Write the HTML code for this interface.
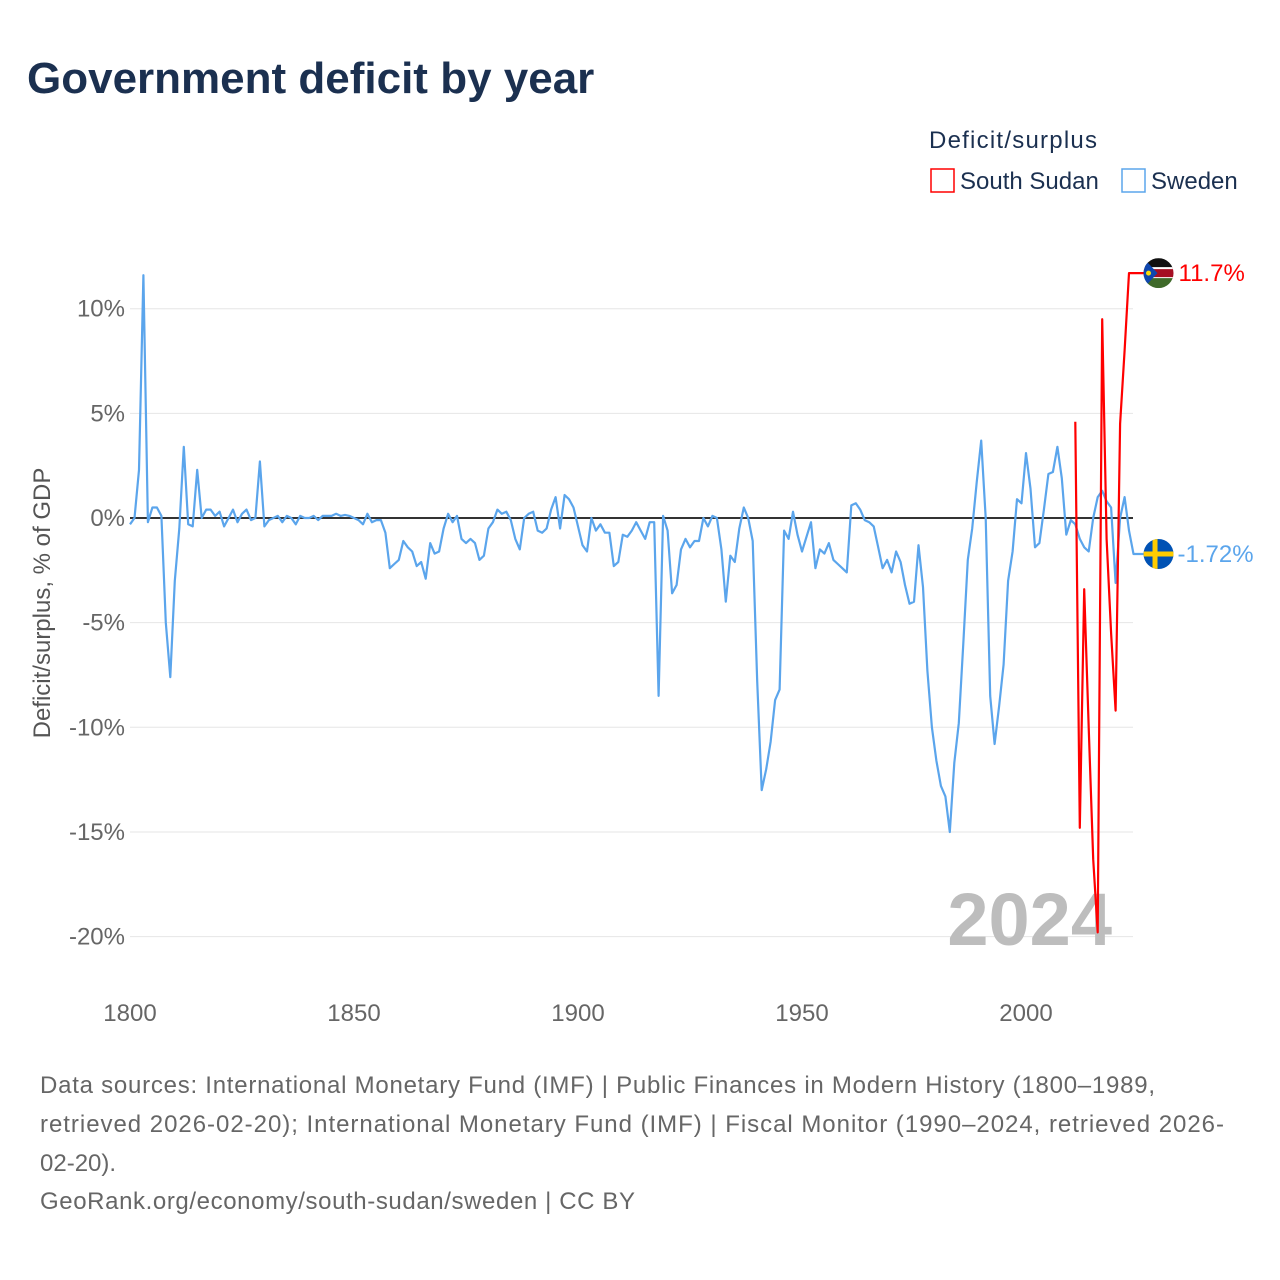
<!DOCTYPE html>
<html><head><meta charset="utf-8">
<style>
body{margin:0;background:#fff;font-family:"Liberation Sans",sans-serif;}
#wrap{position:relative;width:1280px;height:1280px;overflow:hidden;}
</style></head>
<body><div id="wrap">
<svg id="chart" width="1280" height="1280" xmlns="http://www.w3.org/2000/svg">
<text x="27" y="93" font-size="44" font-weight="bold" fill="#1b3050" font-family="Liberation Sans, sans-serif">Government deficit by year</text>
<text x="929" y="148" font-size="24" fill="#1b3050" textLength="168">Deficit/surplus</text>
<g><rect x="931" y="169" width="23" height="23" fill="none" stroke="#f00" stroke-width="1.5"/><text x="960" y="189" font-size="24" fill="#1b3050">South Sudan</text></g>
<g><rect x="1122" y="169" width="23" height="23" fill="none" stroke="#5ba5ec" stroke-width="1.5"/><text x="1151" y="189" font-size="24" fill="#1b3050">Sweden</text></g>
<g id="grid"></g>
<g id="yticks"></g>
<g id="xticks"></g>
<text transform="translate(50,603) rotate(-90)" text-anchor="middle" font-size="24" fill="#555">Deficit/surplus, % of GDP</text>
<text x="1112" y="945" text-anchor="end" font-size="74" font-weight="bold" fill="#bdbdbd">2024</text>
<g id="series"></g>
<g font-size="24" fill="#666">
<text x="40" y="1093" textLength="1115" lengthAdjust="spacing">Data sources: International Monetary Fund (IMF) | Public Finances in Modern History (1800–1989,</text>
<text x="40" y="1132" textLength="1184" lengthAdjust="spacing">retrieved 2026-02-20); International Monetary Fund (IMF) | Fiscal Monitor (1990–2024, retrieved 2026-</text>
<text x="40" y="1171">02-20).</text>
<text x="40" y="1209" textLength="595" lengthAdjust="spacing">GeoRank.org/economy/south-sudan/sweden | CC BY</text>
</g>
</svg>
<script>
const yTickValues=[10,5,0,-5,-10,-15,-20];
const xTickValues=[1800,1850,1900,1950,2000];
const swedenStart=1800;
const swedenValues=[-0.3,0,2.3,11.6,-0.2,0.5,0.5,0.1,-5,-7.6,-3,-0.5,3.4,-0.3,-0.4,2.3,0,0.4,0.4,0.1,0.3,-0.4,0,0.4,-0.2,0.2,0.4,-0.1,0,2.7,
-0.4,-0.1,0,0.1,-0.2,0.1,0,-0.3,0.1,0,0,0.1,-0.1,0.1,0.1,0.1,0.2,0.1,0.15,0.1,0,-0.1,-0.3,0.2,-0.2,-0.1,-0.1,-0.7,-2.4,-2.2,
-2.0,-1.1,-1.4,-1.6,-2.3,-2.1,-2.9,-1.2,-1.7,-1.6,-0.5,0.2,-0.2,0.1,-1.0,-1.2,-1.0,-1.2,-2.0,-1.8,-0.5,-0.2,0.4,0.2,0.3,-0.1,-1.0,-1.5,0,0.2,
0.3,-0.6,-0.7,-0.5,0.4,1.0,-0.5,1.1,0.9,0.5,-0.4,-1.3,-1.6,0,-0.6,-0.3,-0.7,-0.7,-2.3,-2.1,-0.8,-0.9,-0.6,-0.2,-0.6,-1.0,-0.2,-0.2,-8.5,0.1,
-0.6,-3.6,-3.2,-1.5,-1.0,-1.4,-1.1,-1.1,0,-0.4,0.1,0,-1.5,-4.0,-1.8,-2.1,-0.5,0.5,0,-1.1,-7.8,-13.0,-12,-10.7,-8.7,-8.2,-0.6,-1.0,0.3,-0.8,
-1.6,-0.9,-0.2,-2.4,-1.5,-1.7,-1.2,-2.0,-2.2,-2.4,-2.6,0.6,0.7,0.4,-0.1,-0.2,-0.4,-1.4,-2.4,-2.0,-2.6,-1.6,-2.1,-3.2,-4.1,-4.0,-1.3,-3.3,-7.3,-10,
-11.6,-12.8,-13.3,-15.0,-11.7,-9.8,-6,-2.0,-0.5,1.7,3.7,0,-8.5,-10.8,-9,-7,-3,-1.6,0.9,0.7,3.1,1.4,-1.4,-1.2,0.4,2.1,2.2,3.4,1.9,-0.8,
-0.1,-0.3,-1.0,-1.4,-1.6,0,1.0,1.3,0.8,0.5,-3.1,0,1.0,-0.6,-1.72];
const sudanYears=[2011,2012,2013,2014,2015,2016,2017,2018,2019,2020,2021,2022,2023,2024];
const sudanValues=[4.6,-14.8,-3.4,-10,-16.3,-19.8,9.5,-1.0,-5.5,-9.2,4.5,8,11.7,11.7];
const NS='http://www.w3.org/2000/svg';
const X=yr=>130+(yr-1800)*4.48;
const Y=v=>518-v*20.93;
function mk(tag,attrs,parent){const e=document.createElementNS(NS,tag);for(const k in attrs)e.setAttribute(k,attrs[k]);parent.appendChild(e);return e;}
const grid=document.getElementById('grid'),yt=document.getElementById('yticks'),xt=document.getElementById('xticks'),ser=document.getElementById('series');
yTickValues.forEach(v=>{
 if(v!==0){const l=mk('line',{x1:130,x2:1133,y1:Y(v),y2:Y(v),stroke:'#e6e6e6','stroke-width':1},grid);
 
 }
 const t=mk('text',{x:125,y:Y(v)+8,'text-anchor':'end','font-size':24,fill:'#666'},yt);
 
 
 t.textContent=v+'%';
});
xTickValues.forEach(v=>{
 const t=mk('text',{x:X(v),y:1021,'text-anchor':'middle','font-size':24,fill:'#666'},xt);
 
 
 t.textContent=v;
});
const zl=mk('line',{x1:130,x2:1133,y1:Y(0),y2:Y(0),stroke:'#333','stroke-width':2},grid);


const sp=swedenValues.map((v,i)=>X(swedenStart+i).toFixed(1)+','+Y(v).toFixed(1));
const lastSw=swedenValues[swedenValues.length-1];
const sw=mk('polyline',{points:sp.join(' ')+' '+(X(2024)+12)+','+Y(lastSw).toFixed(1),fill:'none',stroke:'#5ba5ec','stroke-width':2.2,'stroke-linejoin':'round'},ser);


const lastSu=sudanValues[sudanValues.length-1];
const su=mk('polyline',{points:sudanYears.map((y,i)=>X(y).toFixed(1)+','+Y(sudanValues[i]).toFixed(1)).join(' ')+' '+(X(2024)+12)+','+Y(lastSu).toFixed(1),fill:'none',stroke:'#f00','stroke-width':2.2,'stroke-linejoin':'round'},ser);


const fx=X(2024)+25;
const g1=mk('g',{},ser);


const cp=mk('clipPath',{id:'c1'},g1);mk('circle',{cx:fx,cy:Y(lastSu),r:15},cp);
const gc=mk('g',{'clip-path':'url(#c1)'},g1);
const yy=Y(lastSu);
mk('rect',{x:fx-15,y:yy-15,width:30,height:10,fill:'#111'},gc);
mk('rect',{x:fx-15,y:yy-5,width:30,height:10,fill:'#a50f23'},gc);
mk('rect',{x:fx-15,y:yy-6,width:30,height:2,fill:'#fff'},gc);
mk('rect',{x:fx-15,y:yy+4,width:30,height:2,fill:'#fff'},gc);
mk('rect',{x:fx-15,y:yy+5,width:30,height:10,fill:'#3f6a2a'},gc);
mk('polygon',{points:(fx-15)+','+(yy-15)+' '+(fx-1)+','+yy+' '+(fx-15)+','+(yy+15),fill:'#0f47af'},gc);
mk('circle',{cx:fx-10,cy:yy,r:2.5,fill:'#fcdd09'},gc);
const t1=mk('text',{x:fx+20,y:yy+8,'font-size':24,fill:'#f00'},ser);


t1.textContent=lastSu+'%';
const g2=mk('g',{},ser);


const y2=Y(lastSw);
const cp2=mk('clipPath',{id:'c2'},g2);mk('circle',{cx:fx,cy:y2,r:15},cp2);
const gc2=mk('g',{'clip-path':'url(#c2)'},g2);
mk('rect',{x:fx-15,y:y2-15,width:30,height:30,fill:'#0052b4'},gc2);
mk('rect',{x:fx-15,y:y2-2.5,width:30,height:5,fill:'#fecc00'},gc2);
mk('rect',{x:fx-6,y:y2-15,width:5,height:30,fill:'#fecc00'},gc2);
const t2=mk('text',{x:fx+19,y:y2+8,'font-size':24,fill:'#5ba5ec'},ser);


t2.textContent=lastSw+'%';
</script>
</div></body></html>
